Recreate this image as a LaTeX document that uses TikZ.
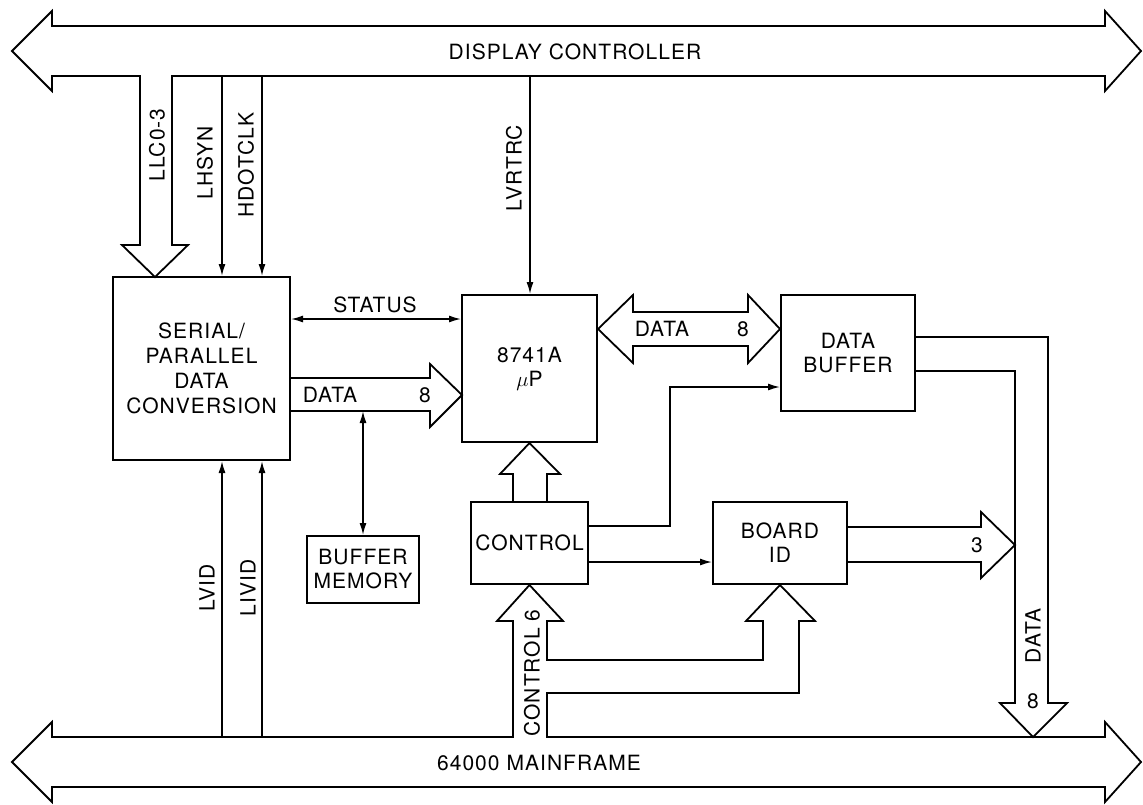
\documentclass[tikz,border=0pt]{standalone}
\usepackage{fontspec}
\setmainfont{TeX Gyre Heros}[LetterSpace=5]
\usetikzlibrary{arrows.meta}

\tikzset{
blk/.style={draw, line width=2pt, align=center, inner sep=0pt},
sig/.style={line width=1.5pt, -{Latex[length=12pt,width=7pt]}},
sigb/.style={line width=1.5pt, {Latex[length=12pt,width=7pt]}-{Latex[length=12pt,width=7pt]}},
fat/.style={line width=1.8pt},
vlbl/.style={rotate=90, inner sep=0pt}
}

\begin{document}
\begin{tikzpicture}[x=1pt, y=-1pt, font=\fontsize{21}{24}\selectfont]

\useasboundingbox (0,0) rectangle (1143,804);

\node[blk, minimum width=177pt, minimum height=183pt] (sp) at (201.5,368.5) {SERIAL/\\[1pt]PARALLEL\\[1pt]DATA\\[1pt]CONVERSION};

\node[blk, minimum width=135pt, minimum height=147pt] (up) at (529.5,368.5) {8741A\\$\mu$P};

\node[blk, minimum width=134pt, minimum height=116pt] (dbuf) at (848,353) {DATA\\BUFFER};

\node[blk, minimum width=112pt, minimum height=67pt] (bmem) at (363,569.5) {BUFFER\\MEMORY};

\node[blk, minimum width=117pt, minimum height=82pt] (ctrl) at (529.5,543) {CONTROL};

\node[blk, minimum width=134pt, minimum height=82pt] (bid) at (780,543) {BOARD\\ID};

\draw[fat] (12,51) -- (52,11) -- (52,26) -- (1105,26) -- (1105,11) -- (1141,51) -- (1105,91) -- (1105,76) -- (172,76) -- (172,245) -- (188,245) -- (155,277) -- (122,245) -- (140,245) -- (140,76) -- (52,76) -- (52,91) -- cycle;

\draw (575,52) node {DISPLAY CONTROLLER};

\draw[fat] (12,762) -- (52,722) -- (52,737) -- (513,737) -- (513,621) -- (497,621) -- (ctrl.south) -- (563,621) -- (547,621) -- (547,660) -- (763,660) -- (763,621) -- (746,621) -- (bid.south) -- (815,621) -- (799,621) -- (799,693) -- (547,693) -- (547,737) -- (1105,737) -- (1105,722) -- (1141,762) -- (1105,802) -- (1105,787) -- (52,787) -- (52,802) -- cycle;

\draw (539,763) node {64000 MAINFRAME};

\draw (157,145) node[vlbl] {LLC0-3};

\coordinate (hs) at (222,76);

\coordinate (hd) at (262,76);

\coordinate (vr) at (530,76);

\draw[sig] (hs) -- (hs |- sp.north);

\draw[sig] (hd) -- (hd |- sp.north);

\draw[sig] (vr) -- (vr |- up.north);

\draw (205,163) node[vlbl] {LHSYN};

\draw (246,165) node[vlbl] {HDOTCLK};

\draw (514,168) node[vlbl] {LVRTRC};

\coordinate (lv) at (222,737);

\coordinate (liv) at (262,737);

\draw[sig] (lv) -- (lv |- sp.south);

\draw[sig] (liv) -- (liv |- sp.south);

\draw (207,588) node[vlbl] {LVID};

\draw (248,588) node[vlbl] {LIVID};

\path ([yshift=-43pt]sp.north east) coordinate (st);

\draw[sigb] (st) -- (st -| up.west);

\draw (375,305) node {STATUS};

\draw[fat] (290,378) -- (430,378) -- (430,364) -- (462,395) -- (430,427) -- (430,411) -- (290,411);

\draw (330,395) node {DATA};

\draw (425,395) node {8};

\coordinate (dd) at (363,411);

\draw[sigb] (dd) -- (bmem.north);

\draw[fat] (598,329) -- (633,295) -- (633,312) -- (748,312) -- (748,295) -- (780,329) -- (748,363) -- (748,346) -- (633,346) -- (633,363) -- cycle;

\draw (662,329) node {DATA};

\draw (743,329) node {8};

\draw[fat] (513,502) -- (513,474) -- (500,474) -- (up.south) -- (560,474) -- (547,474) -- (547,502);

\path ([yshift=-19pt]ctrl.east) coordinate (cb);

\draw[sig] (cb) -- (cb -| bid.west);

\path ([yshift=17pt]ctrl.east) coordinate (cd);

\coordinate (cdu) at (670,387);

\draw[sig] (cd) -| (cdu) -- (cdu -| dbuf.west);

\draw (532,673) node[vlbl] {CONTROL 6};

\draw[fat] (847,527) -- (981,527) -- (981,512) -- (1015,545) -- (981,578) -- (981,562) -- (847,562);

\draw (977,545) node {3};

\draw[fat] (915,337) -- (1048,337) -- (1048,703) -- (1067,703) -- (1033,737) -- (1000,703) -- (1015,703) -- (1015,371) -- (915,371);

\draw (1033,636) node[vlbl] {DATA};

\draw (1033,701) node {8};

\end{tikzpicture}
\end{document}
